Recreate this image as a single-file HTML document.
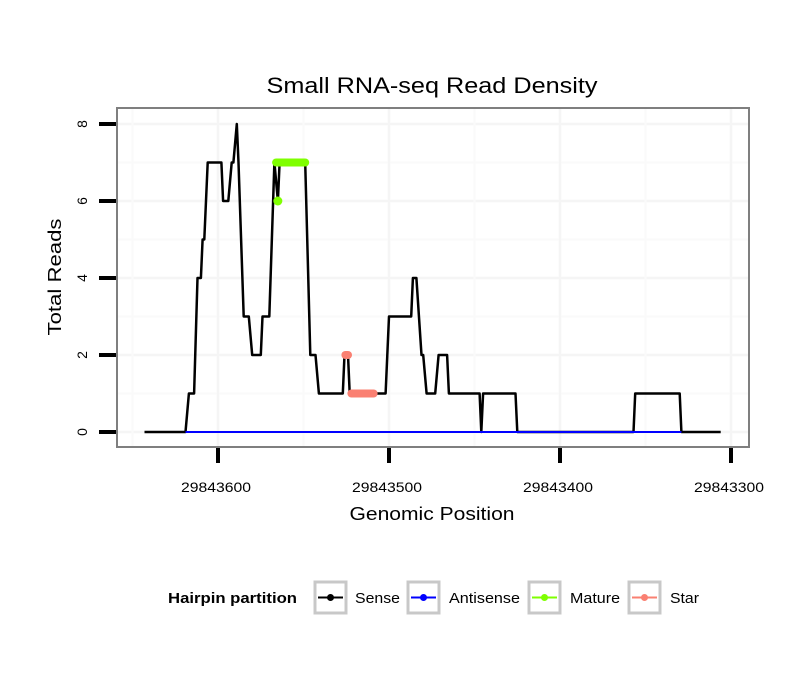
<!DOCTYPE html>
<html><head><meta charset="utf-8"><style>
body{margin:0;background:#fff;}
svg{display:block;font-family:"Liberation Sans",sans-serif;}
</style></head><body>
<svg id="chart" width="810" height="690">
<rect width="810" height="690" fill="#fff"/>
<text x="432" y="93" font-size="22" text-anchor="middle" textLength="331" lengthAdjust="spacingAndGlyphs">Small RNA-seq Read Density</text>
<g id="grid"></g>
<g id="marks"></g>
<rect x="117" y="108" width="632" height="339" fill="none" stroke="#7f7f7f" stroke-width="2"/>
<g id="axes"></g>
<text x="432" y="520" font-size="18" text-anchor="middle" textLength="165" lengthAdjust="spacingAndGlyphs">Genomic Position</text>
<text transform="translate(61,277) rotate(-90)" font-size="18" text-anchor="middle" textLength="117" lengthAdjust="spacingAndGlyphs">Total Reads</text>
<g>
<text x="168" y="603" font-size="15" font-weight="bold" textLength="129" lengthAdjust="spacingAndGlyphs">Hairpin partition</text>
<g><rect x="315" y="582" width="31" height="31" fill="#fff" stroke="#c8c8c8" stroke-width="3"/><line x1="318" y1="597.5" x2="343" y2="597.5" stroke="#000" stroke-width="2"/><circle cx="330.5" cy="597.5" r="3.5" fill="#000"/><text x="355" y="603" font-size="15" textLength="45" lengthAdjust="spacingAndGlyphs">Sense</text></g>
<g><rect x="408" y="582" width="31" height="31" fill="#fff" stroke="#c8c8c8" stroke-width="3"/><line x1="411" y1="597.5" x2="436" y2="597.5" stroke="#0000ff" stroke-width="2"/><circle cx="423.5" cy="597.5" r="3.5" fill="#0000ff"/><text x="449" y="603" font-size="15" textLength="71" lengthAdjust="spacingAndGlyphs">Antisense</text></g>
<g><rect x="529" y="582" width="31" height="31" fill="#fff" stroke="#c8c8c8" stroke-width="3"/><line x1="532" y1="597.5" x2="557" y2="597.5" stroke="#7fff00" stroke-width="2"/><circle cx="544.5" cy="597.5" r="3.5" fill="#7fff00"/><text x="570" y="603" font-size="15" textLength="50" lengthAdjust="spacingAndGlyphs">Mature</text></g>
<g><rect x="629" y="582" width="31" height="31" fill="#fff" stroke="#c8c8c8" stroke-width="3"/><line x1="632" y1="597.5" x2="657" y2="597.5" stroke="#fa8072" stroke-width="2"/><circle cx="644.5" cy="597.5" r="3.5" fill="#fa8072"/><text x="670" y="603" font-size="15" textLength="29" lengthAdjust="spacingAndGlyphs">Star</text></g>
</g>
</svg>
<script>
const senseOffsets = [643,619,617,614,612,610,609,608,606,598,597,594,592,591,589,588,585,582,580,575,574,570,567,565,564,549,546,543,541,527,526,524,523,502,500,487,486,484,481,480,478,473,471,466,465,447,446,445,426,425,357,356,330,329,306];
const senseReads = [0,0,1,1,4,4,5,5,7,7,6,6,7,7,8,7,3,3,2,2,3,3,7,6,7,7,2,2,1,1,2,2,1,1,3,3,4,4,2,2,1,1,2,2,1,1,0,1,1,0,0,1,1,0,0];
const antisenseRange = [619,329];
const antisenseReads = [0,0];
const matureOffsets = [566,549,565];
const matureReads = [7,7,6];
const starOffsets = [525.5,524,522,509];
const starReads = [2,2,1,1];
const xTicks = [29843600,29843500,29843400,29843300];
const yTicks = [0,2,4,6,8];
const BASE = 29843000;

const NS="http://www.w3.org/2000/svg";
function X(p){return 218+(29843600-p)*1.71;}
function Y(v){return 432-v*38.5;}
function mk(tag,attrs,parent){const e=document.createElementNS(NS,tag);for(const k in attrs)e.setAttribute(k,attrs[k]);parent.appendChild(e);return e;}
const grid=document.getElementById('grid'),marks=document.getElementById('marks'),axes=document.getElementById('axes');
mk('rect',{x:117,y:108,width:632,height:339,fill:'#fff'},grid);
for(let v=0;v<=8;v++){const l=mk('line',{x1:117,x2:749,y1:Y(v),y2:Y(v),stroke:v%2?'#fafafa':'#f5f5f5','stroke-width':v%2?2:2.5},grid);}
for(let p=29843650;p>=29843250;p-=50){const x=X(p);if(x<117||x>749)continue;const l=mk('line',{x1:x,x2:x,y1:108,y2:447,stroke:(p%100)?'#fafafa':'#f5f5f5','stroke-width':(p%100)?2:2.5},grid);}
function path(offs,vals,color,w,name){const d=offs.map((o,i)=>(i?'L':'M')+X(BASE+o).toFixed(1)+','+Y(vals[i]).toFixed(1)).join('');const p=mk('path',{d:d,fill:'none',stroke:color,'stroke-width':w,'stroke-linejoin':'round'},marks);}
path(senseOffsets,senseReads,'#000',2.5,'sense-line');
path(antisenseRange,antisenseReads,'#0000ff',2,'antisense-line');
path(matureOffsets.slice(0,2),matureReads.slice(0,2),'#7fff00',8,'mature-line');
const md=mk('circle',{cx:X(BASE+matureOffsets[2]),cy:Y(matureReads[2]),r:4.5,fill:'#7fff00'},marks);


path(starOffsets.slice(0,2),starReads.slice(0,2),'#fa8072',8,'star-line-2');
path(starOffsets.slice(2),starReads.slice(2),'#fa8072',8,'star-line-1');
marks.querySelectorAll('path[stroke-width="8"]').forEach(p=>p.setAttribute('stroke-linecap','round'));
xTicks.forEach(t=>{const x=X(t);const l=mk('line',{x1:x,x2:x,y1:448,y2:463,stroke:'#000','stroke-width':4},axes);
const tx=mk('text',{x:x-2,y:492,'font-size':14,'text-anchor':'middle',textLength:70,lengthAdjust:'spacingAndGlyphs'},axes);tx.textContent=t;});
yTicks.forEach(v=>{const y=Y(v);const l=mk('line',{x1:99,x2:116,y1:y,y2:y,stroke:'#000','stroke-width':4},axes);
const tx=mk('text',{transform:`translate(87,${y}) rotate(-90)`,'font-size':14,'text-anchor':'middle'},axes);tx.textContent=v;});
</script>
</body></html>
